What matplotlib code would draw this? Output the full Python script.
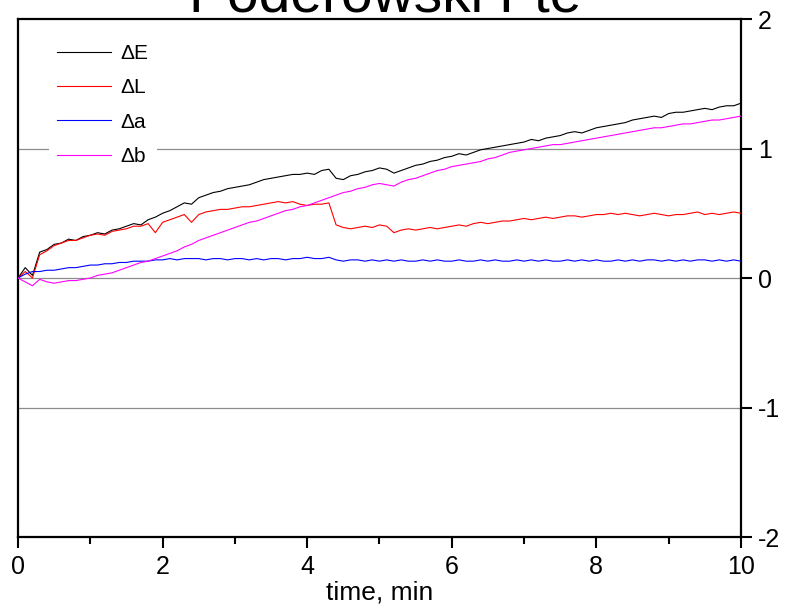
import numpy as np
import matplotlib.pyplot as plt
from matplotlib.ticker import MultipleLocator

plt.rcParams['font.family'] = ['Liberation Sans', 'DejaVu Sans']
plt.rcParams['axes.unicode_minus'] = False

# time grid, min
t = np.round(np.arange(0, 101) * 0.1, 1)

dE = [0.00, 0.08, 0.02, 0.20, 0.22, 0.26, 0.27, 0.30, 0.29, 0.32,
      0.33, 0.35, 0.34, 0.37, 0.38, 0.40, 0.42, 0.41, 0.45, 0.47,
      0.50, 0.52, 0.55, 0.58, 0.57, 0.62, 0.64, 0.66, 0.67, 0.69,
      0.70, 0.71, 0.72, 0.74, 0.76, 0.77, 0.78, 0.79, 0.80, 0.80,
      0.81, 0.80, 0.83, 0.84, 0.77, 0.76, 0.79, 0.80, 0.82, 0.83,
      0.85, 0.84, 0.81, 0.83, 0.85, 0.87, 0.88, 0.90, 0.91, 0.93,
      0.94, 0.96, 0.95, 0.97, 0.99, 1.00, 1.01, 1.02, 1.03, 1.04,
      1.05, 1.07, 1.06, 1.08, 1.09, 1.10, 1.12, 1.13, 1.12, 1.14,
      1.16, 1.17, 1.18, 1.19, 1.20, 1.22, 1.23, 1.24, 1.25, 1.24,
      1.27, 1.28, 1.28, 1.29, 1.30, 1.31, 1.30, 1.32, 1.33, 1.33,
      1.35]

dL = [0.00, 0.05, 0.00, 0.18, 0.21, 0.25, 0.27, 0.29, 0.29, 0.31,
      0.33, 0.34, 0.33, 0.36, 0.37, 0.38, 0.40, 0.40, 0.42, 0.35,
      0.43, 0.45, 0.47, 0.49, 0.43, 0.49, 0.51, 0.52, 0.53, 0.53,
      0.54, 0.55, 0.55, 0.56, 0.57, 0.58, 0.59, 0.58, 0.59, 0.57,
      0.56, 0.57, 0.57, 0.58, 0.41, 0.39, 0.38, 0.39, 0.40, 0.39,
      0.41, 0.40, 0.35, 0.37, 0.38, 0.37, 0.38, 0.39, 0.38, 0.39,
      0.40, 0.41, 0.40, 0.42, 0.43, 0.42, 0.43, 0.44, 0.44, 0.45,
      0.46, 0.45, 0.46, 0.47, 0.46, 0.47, 0.48, 0.48, 0.47, 0.48,
      0.49, 0.49, 0.50, 0.49, 0.50, 0.49, 0.48, 0.49, 0.50, 0.49,
      0.48, 0.49, 0.49, 0.50, 0.51, 0.49, 0.50, 0.49, 0.50, 0.51,
      0.50]

da = [0.00, 0.03, 0.05, 0.05, 0.06, 0.06, 0.07, 0.08, 0.08, 0.09,
      0.10, 0.10, 0.11, 0.11, 0.12, 0.12, 0.13, 0.13, 0.13, 0.14,
      0.14, 0.15, 0.14, 0.15, 0.15, 0.15, 0.14, 0.15, 0.15, 0.14,
      0.15, 0.15, 0.14, 0.15, 0.14, 0.15, 0.15, 0.14, 0.15, 0.15,
      0.16, 0.15, 0.15, 0.16, 0.14, 0.13, 0.14, 0.14, 0.13, 0.14,
      0.13, 0.14, 0.13, 0.14, 0.13, 0.13, 0.14, 0.13, 0.14, 0.13,
      0.13, 0.14, 0.13, 0.13, 0.14, 0.13, 0.14, 0.13, 0.13, 0.14,
      0.13, 0.14, 0.13, 0.14, 0.13, 0.13, 0.14, 0.13, 0.14, 0.13,
      0.14, 0.13, 0.13, 0.14, 0.13, 0.14, 0.13, 0.14, 0.14, 0.13,
      0.14, 0.13, 0.14, 0.13, 0.14, 0.14, 0.13, 0.14, 0.13, 0.14,
      0.13]

db = [0.00, -0.03, -0.06, -0.01, -0.03, -0.04, -0.03, -0.02, -0.02, -0.01,
      0.00, 0.02, 0.03, 0.04, 0.06, 0.08, 0.10, 0.12, 0.13, 0.15,
      0.17, 0.19, 0.21, 0.24, 0.26, 0.29, 0.31, 0.33, 0.35, 0.37,
      0.39, 0.41, 0.43, 0.44, 0.46, 0.48, 0.50, 0.52, 0.53, 0.55,
      0.56, 0.58, 0.60, 0.62, 0.64, 0.66, 0.67, 0.69, 0.70, 0.72,
      0.73, 0.72, 0.71, 0.74, 0.76, 0.77, 0.79, 0.81, 0.83, 0.84,
      0.86, 0.87, 0.88, 0.89, 0.90, 0.92, 0.93, 0.95, 0.97, 0.98,
      0.99, 1.00, 1.01, 1.02, 1.03, 1.03, 1.04, 1.05, 1.06, 1.07,
      1.08, 1.09, 1.10, 1.11, 1.12, 1.13, 1.14, 1.15, 1.16, 1.16,
      1.17, 1.18, 1.19, 1.19, 1.20, 1.21, 1.22, 1.22, 1.23, 1.24,
      1.25]

fig = plt.figure(figsize=(7.86, 6.15), dpi=100)
ax = fig.add_axes([0.0229, 0.1268, 0.9198, 0.8423])

for yv in (-1, 0, 1):
    ax.axhline(yv, color='#8c8c8c', lw=0.9, zorder=1)

ax.plot(t, dE, color='black', lw=0.8, label='ΔE', zorder=3)
ax.plot(t, dL, color='red', lw=0.8, label='ΔL', zorder=3)
ax.plot(t, da, color='blue', lw=0.8, label='Δa', zorder=3)
ax.plot(t, db, color='magenta', lw=0.8, label='Δb', zorder=3)

ax.set_xlim(0, 10)
ax.set_ylim(-2, 2)
ax.xaxis.set_major_locator(MultipleLocator(2))
ax.xaxis.set_minor_locator(MultipleLocator(1))
ax.yaxis.set_major_locator(MultipleLocator(1))
ax.yaxis.tick_right()
ax.tick_params(axis='x', which='major', direction='out', length=8, width=1.5,
               labelsize=18, pad=5)
ax.tick_params(axis='x', which='minor', direction='out', length=5, width=1.5)
ax.tick_params(axis='y', which='major', direction='out', length=8, width=1.5,
               labelsize=18, pad=4)
for s in ax.spines.values():
    s.set_linewidth(1.6)
ax.set_xlabel('time, min', fontsize=19, labelpad=1)

leg = ax.legend(loc='upper left', bbox_to_anchor=(0.0425, 0.968), borderaxespad=0,
                fontsize=15, handlelength=2.6, handletextpad=0.43, labelspacing=0.74,
                frameon=True, fancybox=False, framealpha=1, edgecolor='none')
leg.set_zorder(5)

fig.text(0.49, 1 - 11 / 615, 'Poderowski Fte', fontsize=41, ha='center', va='baseline')

fig.savefig('out.png', dpi=100)
